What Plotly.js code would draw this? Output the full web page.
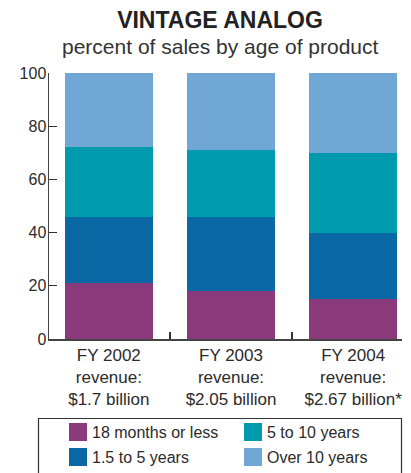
<!DOCTYPE html>
<html>
<head>
<meta charset="utf-8">
<script src="https://cdn.plot.ly/plotly-3.0.1.min.js"></script>
<style>html,body{margin:0;padding:0;background:#fff;}#chart{width:411px;height:473px;}</style>
</head>
<body>
<div id="chart"></div>
<script>
var categories = ["FY 2002<br>revenue:<br>$1.7 billion", "FY 2003<br>revenue:<br>$2.05 billion", "FY 2004<br>revenue:<br>$2.67 billion*"];
var seriesNames = ["18 months or less", "1.5 to 5 years", "5 to 10 years", "Over 10 years"];
var under18Months = [21, 18, 15];
var from1_5to5Years = [25, 28, 25];
var from5to10Years = [26, 25, 30];
var over10Years = [28, 29, 30];
var seriesValues = [under18Months, from1_5to5Years, from5to10Years, over10Years];
var colors = ["#8a397a", "#0a69a5", "#009aaf", "#70a7d5"];
var yTicks = [0, 20, 40, 60, 80, 100];
var titleText = "VINTAGE ANALOG";
var subtitleText = "percent of sales by age of product";

var SANS = "'Liberation Sans', Arial, Helvetica, sans-serif";

var traces = seriesValues.map(function (vals, i) {
  return {
    type: 'bar',
    x: categories,
    y: vals,
    name: seriesNames[i],
    marker: {color: colors[i], line: {width: 0}},
    width: 0.72,
    hoverinfo: 'skip'
  };
});

// plot area in pixels
var W = 411, H = 473, L = 49, R = 402, T = 73, B = 339;
function px2x(p) { return (p - L) / (R - L); }
function px2y(p) { return (B - p) / (B - T); }

var shapes = [];
var annotations = [];
// subtitle
annotations.push({xref: 'paper', yref: 'paper', x: px2x(220), y: px2y(46), xanchor: 'center', yanchor: 'middle',
  text: subtitleText, showarrow: false, font: {family: SANS, size: 21, color: '#333'}});
// legend frame
shapes.push({type: 'rect', xref: 'paper', yref: 'paper', x0: px2x(38.5), x1: px2x(401.5), y0: px2y(485), y1: px2y(418.5),
  line: {color: '#333', width: 1.2}, fillcolor: 'rgba(0,0,0,0)'});
// legend entries: two columns, two rows
var colX = [69, 244], rowY = [432, 457];
var legendPos = [[0, 0], [0, 1], [1, 0], [1, 1]]; // series i -> [col,row]
seriesNames.forEach(function (nm, i) {
  var c = legendPos[i][0], r = legendPos[i][1];
  var sx = colX[c], sy = rowY[r];
  shapes.push({type: 'rect', xref: 'paper', yref: 'paper', x0: px2x(sx), x1: px2x(sx + 18), y0: px2y(sy + 9), y1: px2y(sy - 9),
    line: {width: 0}, fillcolor: colors[i]});
  annotations.push({xref: 'paper', yref: 'paper', x: px2x(sx + 21), y: px2y(sy), xanchor: 'left', yanchor: 'middle',
    text: nm, showarrow: false, font: {family: SANS, size: 16, color: '#2b2b2b'}});
});

var layout = {
  width: W, height: H,
  margin: {l: L, r: W - R, t: T, b: H - B, pad: 0},
  paper_bgcolor: '#fff', plot_bgcolor: '#fff',
  barmode: 'stack',
  showlegend: false,
  title: {
    text: '<b>' + titleText + '</b>',
    font: {family: SANS, size: 23, color: '#222'},
    xref: 'container', x: 220 / 411, xanchor: 'center',
    yref: 'container', y: 1 - 20 / 473, yanchor: 'middle'
  },
  xaxis: {
    type: 'category',
    range: [-0.49, 2.40],
    tickson: 'boundaries',
    ticks: 'inside', ticklen: 7, tickwidth: 1.3, tickcolor: '#333',
    showline: true, linecolor: '#444', linewidth: 1.5,
    showgrid: false, zeroline: false,
    tickfont: {family: SANS, size: 17, color: '#2b2b2b'},
    fixedrange: true
  },
  yaxis: {
    range: [0, 100],
    tickvals: yTicks,
    ticktext: yTicks.map(String),
    ticks: 'inside', ticklen: 8, tickwidth: 1.3, tickcolor: '#333',
    showline: true, linecolor: '#444', linewidth: 1.5,
    showgrid: false, zeroline: false,
    ticklabelstandoff: -2,
    tickfont: {family: SANS, size: 16, color: '#2b2b2b'},
    fixedrange: true
  },
  shapes: shapes,
  annotations: annotations
};

Plotly.newPlot('chart', traces, layout, {displayModeBar: false, staticPlot: true});
</script>
</body>
</html>
